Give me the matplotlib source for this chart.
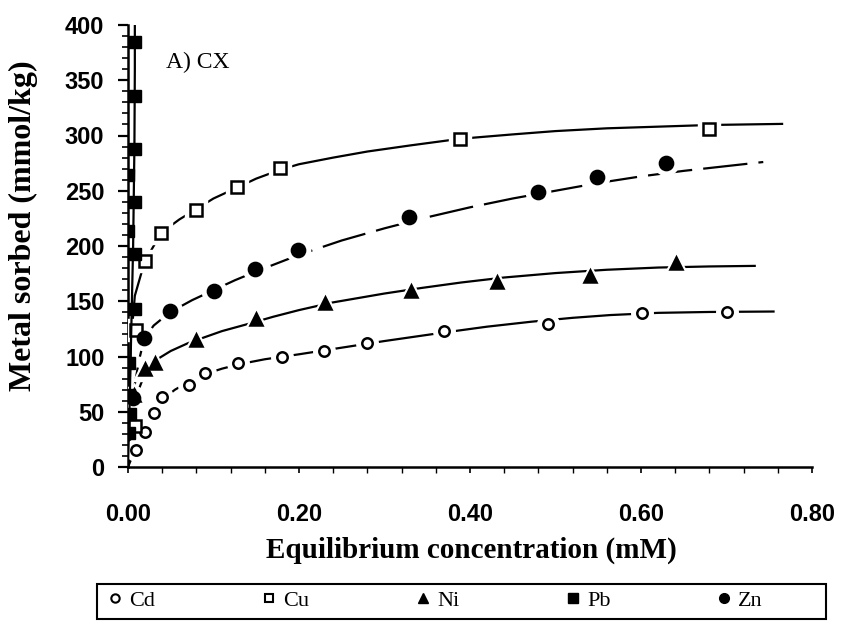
import matplotlib
matplotlib.use("Agg")
import matplotlib.pyplot as plt
from matplotlib.lines import Line2D
from matplotlib.patches import Rectangle
from matplotlib.ticker import MultipleLocator, FormatStrFormatter

# measured sorption points (equilibrium conc. in mM, sorbed in mmol/kg)
cd_x = [0.009, 0.020, 0.030, 0.040, 0.071, 0.090, 0.129, 0.180, 0.229, 0.279, 0.370, 0.491, 0.601, 0.700]
cd_y = [15, 32, 49, 63, 74, 85, 94, 100, 105, 112, 123, 129, 139, 140]
cu_x = [0.008, 0.009, 0.020, 0.039, 0.079, 0.128, 0.178, 0.388, 0.679]
cu_y = [37, 124, 186, 212, 233, 253, 271, 297, 306]
ni_x = [0.007, 0.020, 0.031, 0.080, 0.150, 0.230, 0.331, 0.431, 0.540, 0.641]
ni_y = [65, 89, 94, 115, 134, 148, 159, 167, 173, 185]
pb_x = [0.001, 0.002, 0.001, 0.001, 0.008, 0.008, 0.000, 0.008, 0.000, 0.008, 0.008, 0.008]
pb_y = [31, 48, 65, 94, 143, 193, 214, 240, 264, 288, 336, 385]
zn_x = [0.006, 0.019, 0.049, 0.101, 0.149, 0.199, 0.329, 0.479, 0.549, 0.629]
zn_y = [62, 117, 141, 159, 179, 196, 226, 249, 262, 275]

# isotherm fit lines
cd_fx = [0, 0.009, 0.02, 0.03, 0.04, 0.055, 0.071, 0.09, 0.11, 0.13, 0.16, 0.2, 0.25, 0.3, 0.363, 0.42, 0.472, 0.52, 0.564, 0.62, 0.68, 0.755]
cd_fy = [0, 17, 34, 49, 61, 70, 77, 84, 89, 93, 97.5, 102, 108, 114, 121, 127, 131.5, 135, 137.5, 139.5, 140.3, 140.7]
cu_fx = [0, 0.003, 0.008, 0.0195, 0.039, 0.06, 0.079, 0.1, 0.128, 0.15, 0.178, 0.2, 0.24, 0.28, 0.33, 0.388, 0.45, 0.5, 0.56, 0.62, 0.68, 0.765]
cu_fy = [0, 110, 155, 186, 212, 224, 233, 243, 253, 261, 269, 274, 280, 285.5, 291, 297, 301, 304, 306.5, 308, 309.5, 310.5]
ni_fx = [0, 0.005, 0.01, 0.02, 0.031, 0.05, 0.07, 0.088, 0.11, 0.143, 0.17, 0.2, 0.24, 0.3, 0.343, 0.39, 0.44, 0.5, 0.56, 0.62, 0.68, 0.733]
ni_fy = [0, 45, 65, 85, 96, 105, 112, 117, 123, 130, 136, 142, 149, 157, 162, 167, 171.5, 175.5, 178.5, 180.5, 181.5, 182]
pb_fx = [0, 0.002, 0.004, 0.006, 0.0075, 0.008, 0.008]
pb_fy = [0, 60, 130, 200, 290, 360, 420]
zn_fx = [0, 0.004, 0.008, 0.013, 0.019, 0.03, 0.049, 0.075, 0.1, 0.125, 0.15, 0.2, 0.25, 0.3, 0.35, 0.4, 0.45, 0.5, 0.55, 0.6, 0.65, 0.743]
zn_fy = [0, 45, 75, 97, 116, 128, 140, 151, 160, 169, 177, 192, 205, 216, 226, 235, 243, 250, 257, 263, 268, 276]

plt.rcParams["font.family"] = ["Liberation Sans", "DejaVu Sans"]
fig = plt.figure(figsize=(8.44, 6.28), dpi=100)
ax = fig.add_axes([128 / 844, 161 / 628, 684 / 844, 442 / 628])

series = [
    (cd_x, cd_y, cd_fx, cd_fy, "o", "white", 7.5, "-"),
    (cu_x, cu_y, cu_fx, cu_fy, "s", "white", 8, "-"),
    (ni_x, ni_y, ni_fx, ni_fy, "^", "black", 9, "-"),
    (zn_x, zn_y, zn_fx, zn_fy, "o", "black", 9.5, (0, (20, 5))),
]
for x, y, fx, fy, mk, fc, ms, ls in series:
    ax.plot(fx, fy, color="black", lw=1.6, ls=ls, zorder=2)
    # white halo so the line breaks around each marker
    ax.plot(x, y, ls="none", marker=mk, ms=ms + 8, mfc="white", mec="white", zorder=3)
    ax.plot(x, y, ls="none", marker=mk, ms=ms, mfc=fc, mec="black", mew=1.8, zorder=4)

ax.plot(pb_fx, pb_fy, color="black", lw=1.6, zorder=5)
ax.plot(pb_x, pb_y, ls="none", marker="s", ms=8.5, mfc="black", mec="black", zorder=6)

ax.set_xlim(0, 0.8)
ax.set_ylim(0, 400)
ax.spines["top"].set_visible(False)
ax.spines["right"].set_visible(False)
for s in ("left", "bottom"):
    ax.spines[s].set_linewidth(1.8)
ax.yaxis.set_major_locator(MultipleLocator(50))
ax.yaxis.set_minor_locator(MultipleLocator(10))
ax.xaxis.set_major_locator(MultipleLocator(0.2))
ax.xaxis.set_minor_locator(MultipleLocator(0.04))
ax.xaxis.set_major_formatter(FormatStrFormatter("%.2f"))
ax.tick_params(axis="y", which="major", direction="out", length=7, width=1.6, labelsize=17, pad=10)
ax.tick_params(axis="y", which="minor", direction="out", length=4, width=1.2)
ax.tick_params(axis="x", which="major", direction="out", length=4, width=1.2, labelsize=17, pad=22)
ax.tick_params(axis="x", which="minor", direction="out", length=4, width=1.0)
for lab in ax.get_xticklabels() + ax.get_yticklabels():
    lab.set_fontweight("bold")

serif = ["Liberation Serif", "DejaVu Serif"]
fig.text(471 / 844, 1 - 550 / 628, "Equilibrium concentration (mM)", family=serif,
         fontsize=21, fontweight="bold", ha="center", va="center")
fig.text(23 / 844, 1 - 226 / 628, "Metal sorbed (mmol/kg)", family=serif,
         fontsize=23, fontweight="bold", ha="center", va="center", rotation=90)
ax.text(0.044, 366, "A) CX", family=serif, fontsize=17, va="center")

# legend strip under the axes
fig.add_artist(Rectangle((97 / 844, 1 - 619 / 628), 729 / 844, 35 / 628,
                         transform=fig.transFigure, fill=False, ec="black", lw=1.5))
handles = [
    Line2D([], [], ls="none", marker="o", ms=6, mfc="white", mec="black", mew=1.5, label="Cd"),
    Line2D([], [], ls="none", marker="s", ms=6, mfc="white", mec="black", mew=1.5, label="Cu"),
    Line2D([], [], ls="none", marker="^", ms=7, mfc="black", mec="black", label="Ni"),
    Line2D([], [], ls="none", marker="s", ms=7, mfc="black", mec="black", label="Pb"),
    Line2D([], [], ls="none", marker="o", ms=7, mfc="black", mec="black", label="Zn"),
]
fig.legend(handles=handles, loc="center left", ncol=5,
           bbox_to_anchor=(104 / 844, 1 - 601 / 628), prop={"family": serif, "size": 16},
           frameon=False, handletextpad=0.15, handlelength=1.0, columnspacing=4.6,
           borderpad=0, borderaxespad=0)

fig.savefig("out.png", dpi=100)
